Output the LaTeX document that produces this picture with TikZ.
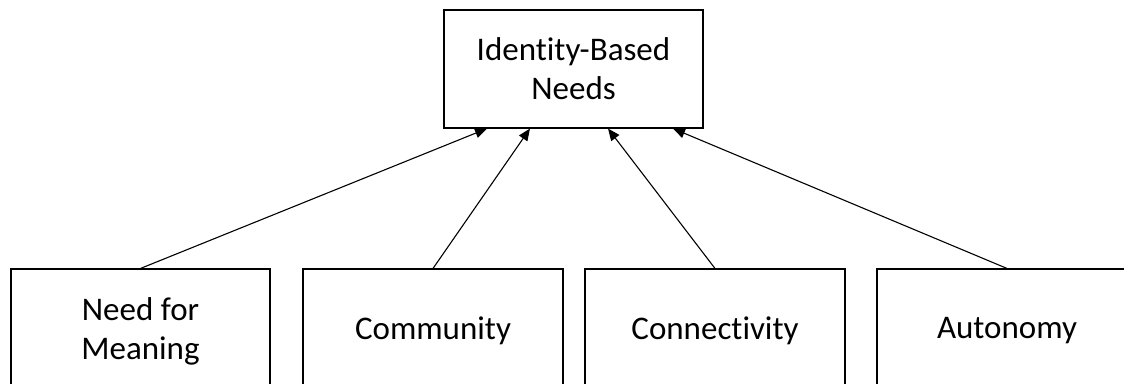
\documentclass[tikz,border=0pt]{standalone}
\usepackage{fontspec}
\setmainfont{Carlito}[Ligatures=NoCommon]
\usetikzlibrary{arrows.meta}
\begin{document}
\begin{tikzpicture}[x=1pt,y=-1pt,
  box/.style={draw=black,line width=1.1pt,fill=white,align=center,inner sep=0pt,
    font=\fontsize{33}{39}\selectfont},
  conn/.style={line width=1.1pt,-{Triangle[length=12pt,width=10pt]}}]
\useasboundingbox (0,0) rectangle (1124,383);
\clip (0,0) rectangle (1124,383);
\node[box,minimum width=259pt,minimum height=118pt] (top) at (573.5,69) {Identity-Based\\Needs};
\node[box,minimum width=259pt,minimum height=124pt] (b1) at (140.5,331) {Need for\\Meaning};
\node[box,minimum width=260pt,minimum height=124pt] (b2) at (433,331) {Community};
\node[box,minimum width=260pt,minimum height=124pt] (b3) at (715,331) {Connectivity};
\node[box,minimum width=260pt,minimum height=124pt] (b4) at (1007,331) {Autonomy};
\draw[conn] (b1.north) -- ([xshift=-86.5pt]top.south);
\draw[conn] (b2.north) -- ([xshift=-43.5pt]top.south);
\draw[conn] (b3.north) -- ([xshift=34.5pt]top.south);
\draw[conn] (b4.north) -- ([xshift=99.5pt]top.south);
\end{tikzpicture}
\end{document}
